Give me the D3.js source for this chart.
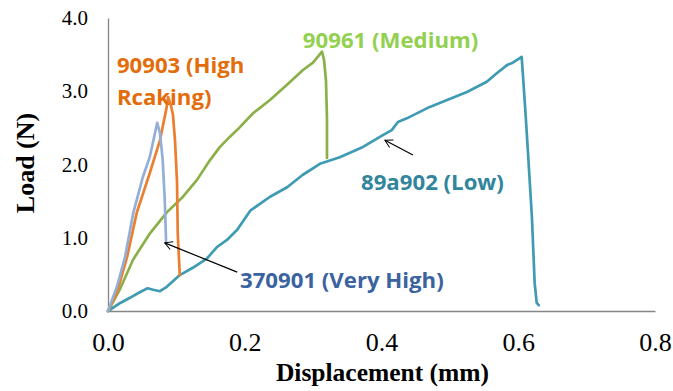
<!DOCTYPE html>
<html>
<head>
<meta charset="utf-8">
<script src="https://cdn.jsdelivr.net/npm/d3@7"></script>
<style>
  body { margin: 0; background: #fff; }
  .tick text { font-family: "Liberation Serif", "Times New Roman", serif; fill: #000; }
  .lbl { font-family: "Open Sans", sans-serif; font-weight: 700; }
</style>
</head>
<body>
<svg id="chart" width="673" height="391"></svg>
<script>
// displacement (mm), load (N)
let lowSample = [[0,0],[0.018,0.11],[0.032,0.18],[0.047,0.26],[0.058,0.31],[0.066,0.29],[0.076,0.27],
    [0.086,0.33],[0.105,0.49],[0.124,0.59],[0.145,0.72],[0.159,0.87],[0.174,0.97],[0.189,1.11],
    [0.208,1.37],[0.237,1.56],[0.262,1.69],[0.285,1.86],[0.310,2.01],[0.339,2.10],[0.373,2.24],
    [0.402,2.40],[0.415,2.47],[0.424,2.58],[0.437,2.63],[0.467,2.77],[0.496,2.88],[0.525,2.99],
    [0.554,3.13],[0.569,3.25],[0.584,3.36],[0.592,3.39],[0.605,3.47],[0.610,2.79],[0.614,2.20],
    [0.620,1.28],[0.624,0.38],[0.627,0.11],[0.630,0.08]];
let mediumSample = [[0,0],[0.0176,0.30],[0.0366,0.70],[0.0614,1.06],[0.0863,1.35],[0.1097,1.56],
    [0.1302,1.79],[0.1492,2.06],[0.1638,2.24],[0.1784,2.38],[0.1887,2.47],[0.2121,2.70],[0.2369,2.88],
    [0.2618,3.09],[0.2852,3.29],[0.2998,3.39],[0.3130,3.54],[0.3159,3.43],[0.3188,3.15],[0.3203,2.61],
    [0.3203,2.09]];
let highSample = [[0,0],[0.013,0.25],[0.028,0.74],[0.042,1.34],[0.061,1.88],[0.076,2.33],[0.086,2.79],
    [0.088,2.92],[0.092,2.81],[0.095,2.68],[0.098,2.33],[0.101,1.75],[0.102,1.06],[0.105,0.49]];
let veryHighSample = [[0,0],[0.013,0.33],[0.025,0.74],[0.037,1.34],[0.051,1.83],[0.061,2.10],[0.072,2.57],
    [0.076,2.43],[0.080,2.06],[0.083,1.52],[0.085,0.93]];

let xTicks = [0, 0.2, 0.4, 0.6, 0.8];
let yTicks = [0, 1, 2, 3, 4];

let series = [
    {data: lowSample, color: "#3f9bb3"},
    {data: mediumSample, color: "#8bb04a"},
    {data: highSample, color: "#ea7f2f"},
    {data: veryHighSample, color: "#93afd8"}
];

// text annotations, anchored in data units (left, baseline)
let labels = [
    {text: "90903 (High", at: [0.013, 3.25], color: "#e46c0a"},
    {text: "Rcaking)", at: [0.013, 2.81], color: "#e46c0a"},
    {text: "90961 (Medium)", at: [0.285, 3.59], color: "#92d050"},
    {text: "89a902 (Low)", at: [0.370, 1.65], color: "#31859c"},
    {text: "370901 (Very High)", at: [0.193, 0.31], color: "#3a63a0"}
];
let arrows = [
    {from: [0.446, 2.13], to: [0.405, 2.33]},
    {from: [0.189, 0.53], to: [0.083, 0.93]}
];

let svg = d3.select("svg#chart"),
    margin = {top: 18, right: 18, bottom: 80, left: 108},
    width = +svg.attr("width") - margin.left - margin.right,
    height = +svg.attr("height") - margin.top - margin.bottom,
    g = svg.append("g").attr("transform", "translate(" + margin.left + "," + margin.top + ")");

let x = d3.scaleLinear().domain([0, 0.8]).range([0, width]);
let y = d3.scaleLinear().domain([0, 4]).range([height, 0]);

svg.append("defs").append("marker")
    .attr("id", "head")
    .attr("markerUnits", "userSpaceOnUse")
    .attr("markerWidth", 20).attr("markerHeight", 20)
    .attr("viewBox", "-12 -10 24 20")
    .attr("refX", 0).attr("refY", 0)
    .attr("orient", "auto")
    .append("path")
    .attr("d", "M-9,-5L0,0L-9,5")
    .attr("fill", "none")
    .attr("stroke", "#000")
    .attr("stroke-width", 1.2);

let xAxis = g.append("g")
    .attr("transform", "translate(0," + height + ")")
    .call(d3.axisBottom(x).tickValues(xTicks).tickSize(0).tickPadding(22).tickFormat(d3.format(".1f")));
let yAxis = g.append("g")
    .call(d3.axisLeft(y).tickValues(yTicks).tickSize(0).tickPadding(20).tickFormat(d3.format(".1f")));

xAxis.selectAll(".tick text").style("font-size", "26px");
yAxis.selectAll(".tick text").style("font-size", "21px");
[xAxis, yAxis].forEach(function(a) {
    a.select(".domain").attr("stroke", "#868686").attr("stroke-width", 1.3);
});

let line = d3.line()
    .x(function(d) { return x(d[0]); })
    .y(function(d) { return y(d[1]); });

g.selectAll("path.series")
    .data(series)
    .enter().append("path")
    .attr("class", "series")
    .attr("d", function(s) { return line(s.data); })
    .attr("fill", "none")
    .attr("stroke", function(s) { return s.color; })
    .attr("stroke-width", 2.7)
    .attr("stroke-linejoin", "round")
    .attr("stroke-linecap", "round");

g.selectAll("line.arrow")
    .data(arrows)
    .enter().append("line")
    .attr("class", "arrow")
    .attr("x1", function(a) { return x(a.from[0]); })
    .attr("y1", function(a) { return y(a.from[1]); })
    .attr("x2", function(a) { return x(a.to[0]); })
    .attr("y2", function(a) { return y(a.to[1]); })
    .attr("stroke", "#000")
    .attr("stroke-width", 1.2)
    .attr("marker-end", "url(#head)");

g.selectAll("text.lbl")
    .data(labels)
    .enter().append("text")
    .attr("class", "lbl")
    .attr("x", function(l) { return x(l.at[0]); })
    .attr("y", function(l) { return y(l.at[1]); })
    .attr("fill", function(l) { return l.color; })
    .style("font-size", "22.2px")
    .text(function(l) { return l.text; });

svg.append("text")
    .attr("x", margin.left + width / 2 + 1)
    .attr("y", 381)
    .attr("text-anchor", "middle")
    .style("font-family", "'Liberation Serif', serif")
    .style("font-weight", "700")
    .style("font-size", "25.5px")
    .text("Displacement (mm)");

svg.append("text")
    .attr("transform", "translate(34," + (margin.top + 145) + ") rotate(-90)")
    .attr("text-anchor", "middle")
    .style("font-family", "'Liberation Serif', serif")
    .style("font-weight", "700")
    .style("font-size", "26px")
    .text("Load (N)");
</script>
</body>
</html>
